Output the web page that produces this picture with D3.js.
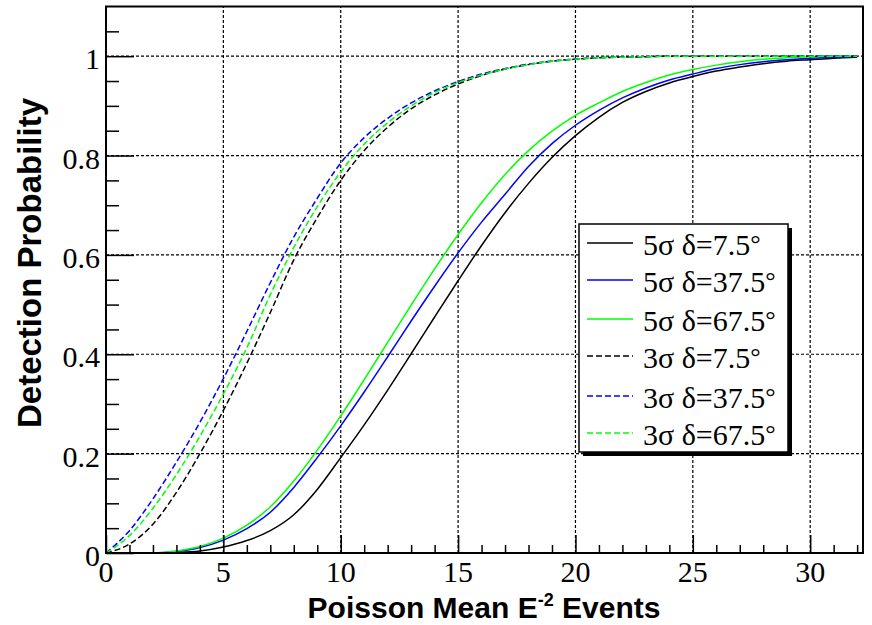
<!DOCTYPE html>
<html>
<head>
<meta charset="utf-8">
<script src="https://cdn.jsdelivr.net/npm/d3@7"></script>
<style>
  body { margin: 0; background: #fff; }
  svg { display: block; }
</style>
</head>
<body>
<script>
var width = 872,
    height = 625;

// sample points along the x axis (Poisson mean)
var xs = [0,1,2,3,4,5,6,7,8,9,10,11,12,13,14,15,16,17,18,19,20,21,22,23,24,25,26,27,28,29,30,31,32];

// detection probability
var s5d7  = [0,0,0,0.001,0.004,0.012,0.025,0.045,0.077,0.128,0.192,0.258,0.328,0.401,0.475,0.548,0.619,0.685,0.744,0.796,0.84,0.877,0.907,0.929,0.946,0.959,0.97,0.978,0.985,0.99,0.993,0.996,0.998];
var s5d37 = [0,0,0,0.003,0.011,0.026,0.049,0.082,0.132,0.192,0.256,0.324,0.395,0.467,0.537,0.604,0.666,0.722,0.778,0.824,0.861,0.891,0.916,0.936,0.952,0.964,0.975,0.983,0.989,0.993,0.996,0.998,0.999];
var s5d67 = [0,0,0,0.004,0.013,0.03,0.056,0.093,0.145,0.207,0.276,0.349,0.424,0.499,0.572,0.641,0.705,0.762,0.81,0.849,0.881,0.906,0.929,0.947,0.962,0.973,0.982,0.989,0.994,0.997,0.999,1,1];
var s3d7  = [0,0.018,0.058,0.122,0.2,0.287,0.382,0.484,0.59,0.675,0.75,0.81,0.857,0.894,0.922,0.944,0.961,0.974,0.983,0.99,0.994,0.997,0.998,0.999,1,1,1,1,1,1,1,1,1];
var s3d37 = [0,0.045,0.109,0.183,0.263,0.351,0.446,0.544,0.636,0.714,0.785,0.836,0.875,0.906,0.93,0.949,0.964,0.975,0.984,0.99,0.994,0.997,0.998,0.999,1,1,1,1,1,1,1,1,1];
var s3d67 = [0,0.035,0.09,0.158,0.235,0.32,0.413,0.52,0.615,0.697,0.767,0.823,0.866,0.9,0.927,0.947,0.962,0.974,0.983,0.99,0.994,0.997,0.998,0.999,1,1,1,1,1,1,1,1,1];

var seriesNames = ["5\u03c3 \u03b4=7.5", "5\u03c3 \u03b4=37.5", "5\u03c3 \u03b4=67.5",
                   "3\u03c3 \u03b4=7.5", "3\u03c3 \u03b4=37.5", "3\u03c3 \u03b4=67.5"];
var seriesValues = [s5d7, s5d37, s5d67, s3d7, s3d37, s3d67];
var seriesColors = ["#000000", "#0000ff", "#00ff00", "#000000", "#0000ff", "#00ff00"];
var seriesDashed = [false, false, false, true, true, true];

var xTicks = [0, 5, 10, 15, 20, 25, 30];
var yTicks = [0, 0.2, 0.4, 0.6, 0.8, 1];

var svg = d3.select("body").append("svg")
    .attr("width", width)
    .attr("height", height);

var x = d3.scaleLinear().domain([0, 32.25]).range([106, 863]);
var y = d3.scaleLinear().domain([0, 1.1]).range([553, 6.5]);

// grid
svg.append("g").selectAll("line")
    .data(xTicks.slice(1))
    .enter().append("line")
      .attr("x1", function(d) { return x(d); })
      .attr("x2", function(d) { return x(d); })
      .attr("y1", y(0))
      .attr("y2", y(1.1))
      .attr("stroke", "#000")
      .attr("stroke-width", 1.2)
      .attr("stroke-dasharray", "3,2");

svg.append("g").selectAll("line")
    .data(yTicks.slice(1))
    .enter().append("line")
      .attr("x1", x(0))
      .attr("x2", x(32.25))
      .attr("y1", function(d) { return y(d); })
      .attr("y2", function(d) { return y(d); })
      .attr("stroke", "#000")
      .attr("stroke-width", 1.2)
      .attr("stroke-dasharray", "3,2");

// curves
var line = d3.line()
    .x(function(d, i) { return x(xs[i]); })
    .y(function(d) { return y(d); })
    .curve(d3.curveMonotoneX);

svg.append("g").selectAll("path")
    .data(seriesValues)
    .enter().append("path")
      .attr("d", line)
      .attr("fill", "none")
      .attr("stroke", function(d, i) { return seriesColors[i]; })
      .attr("stroke-width", 1.5)
      .attr("stroke-dasharray", function(d, i) { return seriesDashed[i] ? "6,3" : null; });

// axes (ticks point into the frame)
var xAxis = d3.axisTop(x)
    .tickValues(d3.range(0, 33, 1))
    .tickSize(8)
    .tickFormat("");
svg.append("g")
    .attr("transform", "translate(0," + y(0) + ")")
    .call(xAxis)
    .call(function(g) {
      g.select(".domain").remove();
      g.selectAll(".tick line")
        .attr("stroke-width", 1.5)
        .attr("y2", function(d) { return d % 5 === 0 ? -18 : -8; });
    });

var yAxis = d3.axisRight(y)
    .tickValues(d3.range(0, 22).map(function(i) { return i * 0.05; }))
    .tickSize(13)
    .tickFormat("");
svg.append("g")
    .attr("transform", "translate(" + x(0) + ",0)")
    .call(yAxis)
    .call(function(g) {
      g.select(".domain").remove();
      g.selectAll(".tick line")
        .attr("stroke-width", 1.5)
        .attr("x2", function(d, i) { return i % 4 === 0 ? 28 : 13; });
    });

// frame
svg.append("rect")
    .attr("x", x(0))
    .attr("y", y(1.1))
    .attr("width", x(32.25) - x(0))
    .attr("height", y(0) - y(1.1))
    .attr("fill", "none")
    .attr("stroke", "#000")
    .attr("stroke-width", 2);

// tick labels
svg.append("g").selectAll("text")
    .data(xTicks)
    .enter().append("text")
      .attr("x", function(d) { return x(d); })
      .attr("y", 582)
      .attr("text-anchor", "middle")
      .style("font-family", "'Liberation Serif', serif")
      .style("font-size", "30px")
      .text(function(d) { return d; });

svg.append("g").selectAll("text")
    .data(yTicks)
    .enter().append("text")
      .attr("x", 100)
      .attr("y", function(d) { return y(d) + 13; })
      .attr("text-anchor", "end")
      .style("font-family", "'Liberation Serif', serif")
      .style("font-size", "30px")
      .text(function(d) { return d; });

// axis titles
var xt = svg.append("text")
    .attr("x", 484)
    .attr("y", 618)
    .attr("text-anchor", "middle")
    .style("font-family", "'Liberation Sans', Arial, sans-serif")
    .style("font-weight", "bold")
    .style("font-size", "30px");
xt.append("tspan").text("Poisson Mean E");
xt.append("tspan").attr("dy", -12).style("font-size", "18px").text("-2");
xt.append("tspan").attr("dy", 12).text(" Events");

svg.append("text")
    .attr("transform", "translate(41,263) rotate(-90)")
    .attr("text-anchor", "middle")
    .style("font-family", "'Liberation Sans', Arial, sans-serif")
    .style("font-weight", "bold")
    .style("font-size", "33px")
    .text("Detection Probability");

// legend
var lx = 579, ly = 224, lw = 209, lh = 228;
svg.append("rect")
    .attr("x", lx + 4).attr("y", ly + 4)
    .attr("width", lw).attr("height", lh)
    .attr("fill", "#000");
svg.append("rect")
    .attr("x", lx).attr("y", ly)
    .attr("width", lw).attr("height", lh)
    .attr("fill", "#fff")
    .attr("stroke", "#000")
    .attr("stroke-width", 1.5);

var rowY = [243, 280, 319, 356, 396, 433];
var entry = svg.append("g").selectAll("g")
    .data(seriesNames)
    .enter().append("g")
      .attr("transform", function(d, i) { return "translate(0," + rowY[i] + ")"; });

entry.append("line")
    .attr("x1", 587).attr("x2", 633)
    .attr("stroke", function(d, i) { return seriesColors[i]; })
    .attr("stroke-width", 1.5)
    .attr("stroke-dasharray", function(d, i) { return seriesDashed[i] ? "6,3" : null; });

var lt = entry.append("text")
    .attr("x", 643)
    .attr("y", 12)
    .style("font-family", "'Liberation Serif', serif")
    .style("font-size", "30px");
lt.append("tspan").text(function(d) { return d; });
lt.append("tspan").attr("dy", -3).style("font-size", "26px").text("\u00b0");
</script>
</body>
</html>
